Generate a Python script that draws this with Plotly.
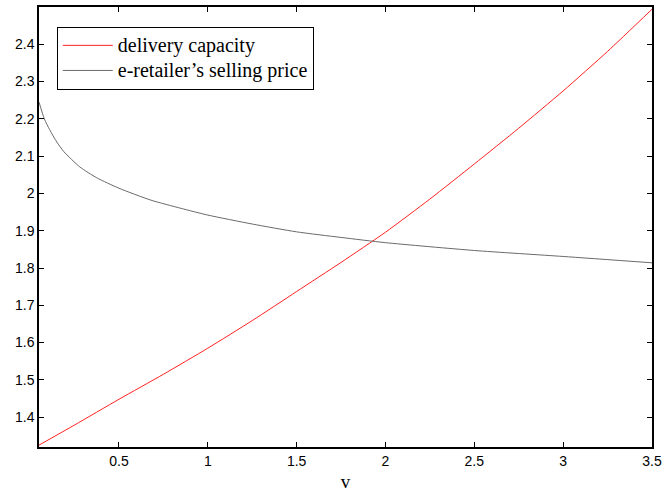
import plotly.graph_objects as go

# ---- data ----
v_delivery = [0.05, 0.25, 0.5, 0.75, 1.0, 1.25, 1.5, 1.75, 2.0, 2.25, 2.5, 2.75, 3.0, 3.25, 3.5]
delivery_capacity = [1.325, 1.379, 1.448, 1.515, 1.585, 1.659, 1.737, 1.815, 1.896,
                     1.985, 2.079, 2.175, 2.275, 2.381, 2.494]

v_price = [0.05, 0.08, 0.11, 0.15, 0.19, 0.28, 0.375, 0.5, 0.68, 0.85, 1.0, 1.25, 1.5,
           1.75, 2.0, 2.5, 3.0, 3.5]
selling_price = [2.245, 2.200, 2.171, 2.138, 2.112, 2.071, 2.042, 2.014, 1.982, 1.960,
                 1.942, 1.918, 1.897, 1.882, 1.868, 1.847, 1.831, 1.814]

x_ticks = [0.5, 1, 1.5, 2, 2.5, 3, 3.5]
x_ticktext = ["0.5", "1", "1.5", "2", "2.5", "3", "3.5"]
y_ticks = [1.4, 1.5, 1.6, 1.7, 1.8, 1.9, 2.0, 2.1, 2.2, 2.3, 2.4]
y_ticktext = ["1.4", "1.5", "1.6", "1.7", "1.8", "1.9", "2", "2.1", "2.2", "2.3", "2.4"]

series_names = ["delivery capacity", "e-retailer\u2019s selling price"]

def big(name):
    return '<span style="font-size:20px">' + name + '</span>'

fig = go.Figure()
fig.add_trace(go.Scatter(x=v_delivery, y=delivery_capacity, mode="lines",
                         name=big(series_names[0]),
                         line=dict(color="#ff2020", width=1, shape="spline", smoothing=0.6)))
fig.add_trace(go.Scatter(x=v_price, y=selling_price, mode="lines",
                         name=big(series_names[1]),
                         line=dict(color="#6a6a6a", width=1, shape="spline", smoothing=0.6)))

axis_common = dict(showgrid=False, zeroline=False, showline=True, linecolor="black",
                   linewidth=1.5, mirror="ticks", ticks="inside", ticklen=5,
                   tickwidth=1, tickcolor="black", automargin=False,
                   tickfont=dict(family="Liberation Sans, Arial, sans-serif", size=14, color="black"))

fig.update_layout(
    width=663, height=492,
    margin=dict(l=39, r=11, t=7, b=45),
    paper_bgcolor="white", plot_bgcolor="white",
    showlegend=True,
    legend=dict(x=0.029, y=0.955, xanchor="left", yanchor="top",
                bordercolor="black", borderwidth=1, bgcolor="white",
                font=dict(family="Liberation Serif, Times New Roman, serif", size=17, color="black"),
                itemwidth=50, tracegroupgap=0),
    xaxis=dict(range=[0.05, 3.5], tickvals=x_ticks, ticktext=x_ticktext,
               title=dict(text="v", standoff=13,
                          font=dict(family="Liberation Serif, Times New Roman, serif", size=19, color="black")),
               **axis_common),
    yaxis=dict(range=[1.32, 2.5], tickvals=y_ticks, ticktext=y_ticktext, **axis_common),
)

fig.write_html("out.html", config={"displayModeBar": False},
               post_script="document.body.style.margin='0';document.body.style.overflow='hidden';")
